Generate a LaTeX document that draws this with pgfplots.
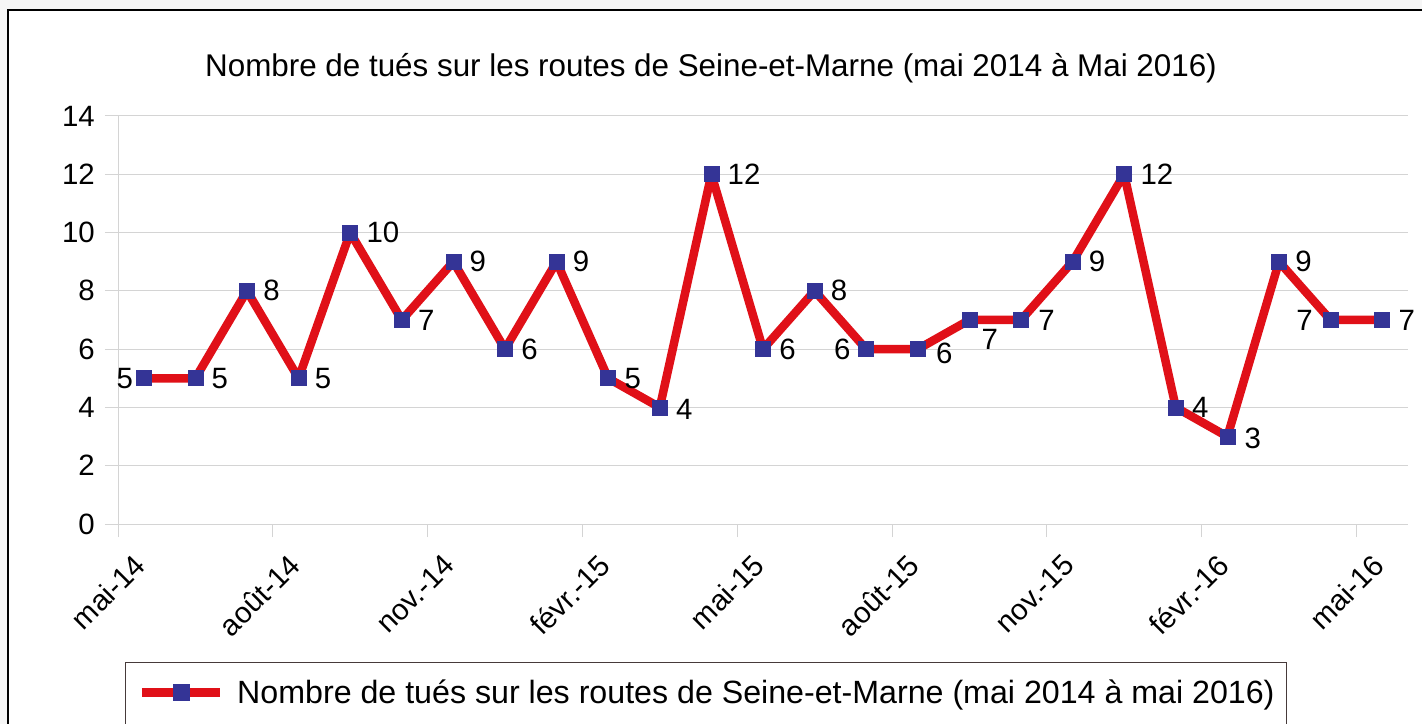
\documentclass[border=0pt]{standalone}
\usepackage{pgfplots}
\pgfplotsset{compat=1.18}
\usepackage{fontspec}
\setmainfont{Liberation Sans}
\definecolor{redc}{RGB}{224,16,24}
\definecolor{bluec}{RGB}{52,52,150}
\definecolor{gridc}{RGB}{212,212,212}
\definecolor{legc}{RGB}{70,58,58}
\pgfplotstableread{
x y dx dy
0 5 -27.5 0
1 5 16 0
2 8 16 0
3 5 16 0
4 10 16 0
5 7 16 0
6 9 16 0
7 6 16 0
8 9 16 0
9 5 16 0
10 4 16 -2
11 12 16 0
12 6 16 0
13 8 16 0
14 6 -32.5 0
15 6 18 -4
16 7 12 -19
17 7 17 0
18 9 16 0
19 12 16 0
20 4 16 0
21 3 17 -2
22 9 16 0
23 7 -34.5 0
24 7 16 0
}\datatable
\begin{document}
\begin{tikzpicture}
\useasboundingbox (0bp,0bp) rectangle (1422bp,724bp);
\fill[gray!7] (0bp,0bp) rectangle (1422bp,724bp);
\fill[white] (8bp,0bp) rectangle (1422bp,714bp);
\draw[line width=1.5bp] (8bp,-5bp) -- (8bp,714bp) -- (1430bp,714bp);
\begin{axis}[
  at={(118bp,200bp)}, anchor=south west,
  scale only axis, width=1290bp, height=408bp,
  xmin=-0.5, xmax=24.5, ymin=0, ymax=14,
  axis lines=left,
  axis line style={draw=gridc, line width=1bp, -},
  xtick={-0.5,2.5,5.5,8.5,11.5,14.5,17.5,20.5,23.5},
  xticklabels={mai-14,août-14,nov.-14,févr.-15,mai-15,août-15,nov.-15,févr.-16,mai-16},
  ytick={0,2,4,6,8,10,12,14},
  ymajorgrids,
  grid style={draw=gridc, line width=1bp},
  tick style={draw=gridc, line width=1bp},
  tick align=outside, major tick length=13bp,
  /pgf/number format/assume math mode=true,
  ticklabel style={font=\fontsize{29.5}{30}\selectfont, text=black, inner sep=0pt},
  yticklabel style={anchor=east, xshift=-10bp},
  xticklabel style={xshift=22bp, yshift=-23bp, rotate=45, anchor=east},
  title={Nombre de tués sur les routes de Seine-et-Marne (mai 2014 à Mai 2016)},
  title style={at={(axis description cs:0.4597,1.0833)}, anchor=base, inner sep=0pt, font=\fontsize{31.5}{33}\selectfont},
  legend style={at={(axis description cs:0.0054,-0.338)}, anchor=north west,
    draw=legc, line width=1.5bp, inner xsep=12bp, inner ysep=17bp,
    font=\fontsize{32.3}{34}\selectfont, nodes={inner sep=0pt, text depth=14bp},
    /tikz/every odd column/.append style={column sep=13bp}},
  legend cell align=left,
  legend image code/.code={
    \draw[line width=8.5bp, draw=redc, line cap=butt] (0bp,6bp) -- (78bp,6bp);
    \path[fill=bluec, draw=none] (31bp,-2.5bp) rectangle (48bp,14.5bp);
  },
]
\addplot[draw=redc, line width=8.5bp, line join=round,
  mark=square*, mark size=7.5bp, mark options={fill=bluec, draw=bluec, line width=0.6bp, line join=miter},
  nodes near coords, point meta=explicit,
  visualization depends on={\thisrow{dx}\as\dx},
  visualization depends on={\thisrow{dy}\as\dy},
  every node near coord/.append style={font=\fontsize{29.5}{30}\selectfont, text=black, inner sep=0pt, anchor=west, xshift=\dx bp, yshift=\dy bp}
] table[x=x, y=y, meta=y] {\datatable};
\addlegendentry{Nombre de tués sur les routes de Seine-et-Marne (mai 2014 à mai 2016)}
\end{axis}
\end{tikzpicture}
\end{document}
